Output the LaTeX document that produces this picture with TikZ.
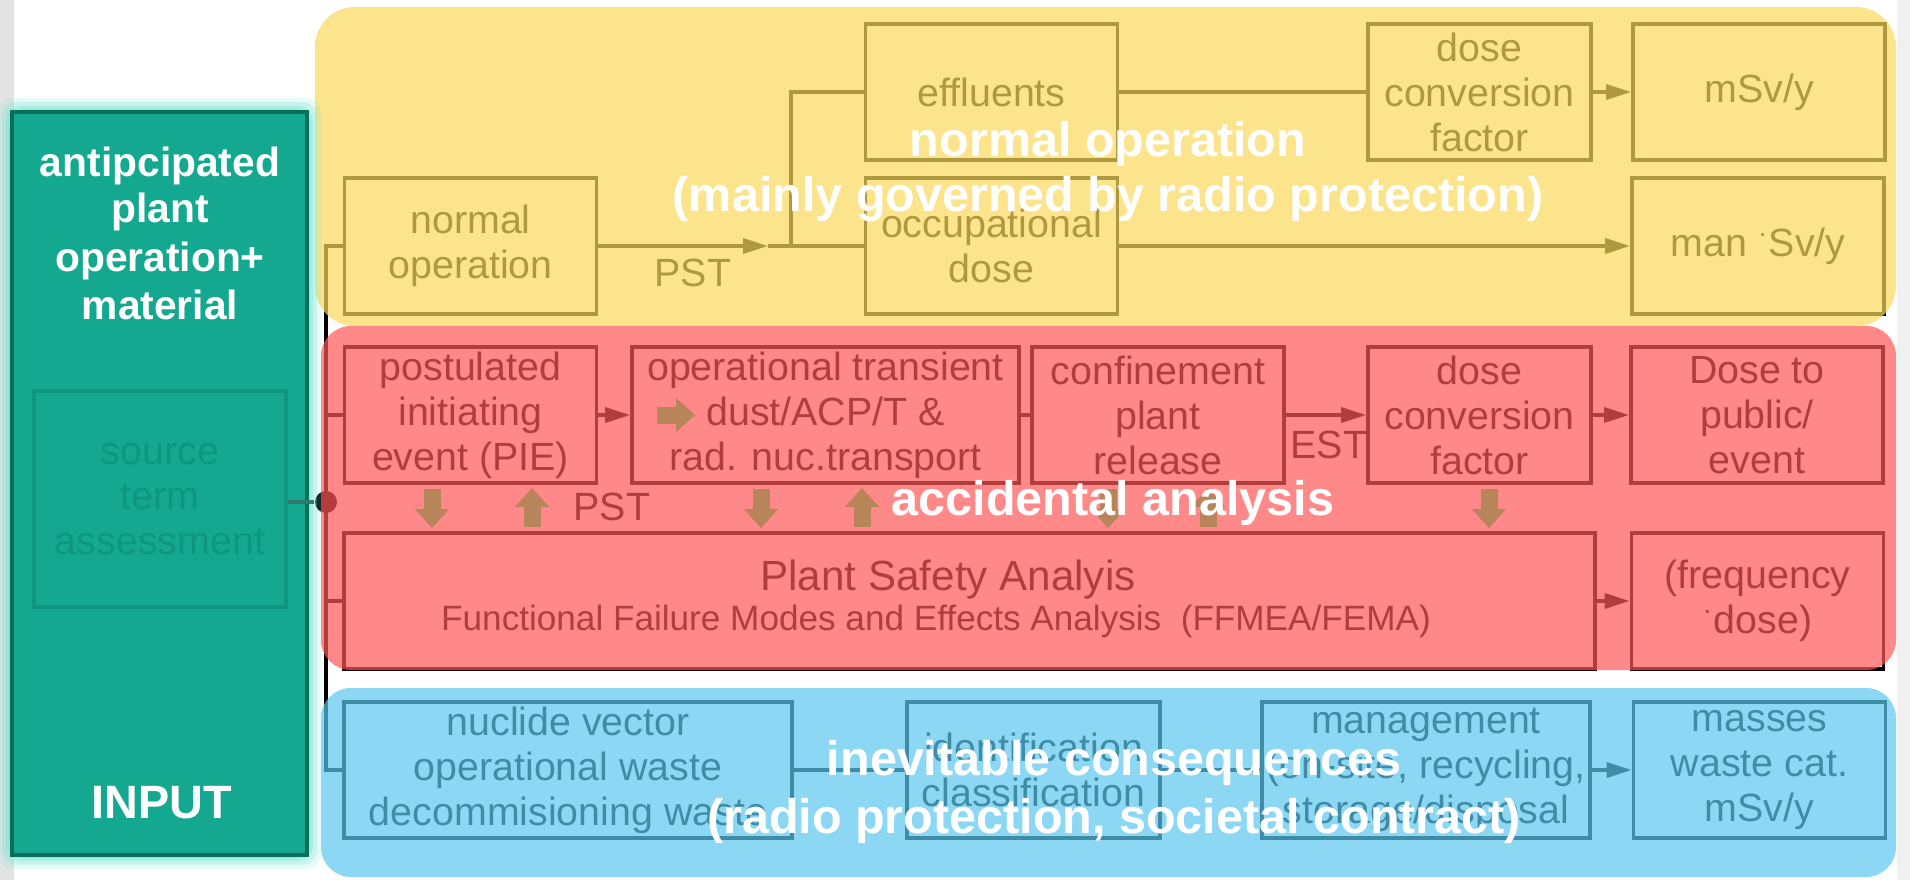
\documentclass[tikz,border=0pt]{standalone}
\usepackage{fontspec}
\setmainfont{Liberation Sans}
\usetikzlibrary{positioning, calc, arrows.meta}

\definecolor{yelC}{RGB}{251,217,91}
\definecolor{redC}{RGB}{255,86,86}
\definecolor{bluC}{RGB}{91,200,239}
\colorlet{yelT}{yelC!45!white}
\colorlet{redT}{redC!55!white}
\colorlet{bluT}{bluC!40!white}
\definecolor{tealC}{RGB}{20,168,144}
\definecolor{tealD}{RGB}{10,110,92}
\definecolor{tealF}{RGB}{14,150,127}
\definecolor{tealG}{RGB}{120,228,210}
\definecolor{tealL}{RGB}{50,120,110}
\definecolor{arrBrown}{RGB}{184,132,90}

\pgfdeclareverticalshading{yelShade}{100bp}{color(0bp)=(yelC); color(86bp)=(yelC); color(100bp)=(yelT)}
\pgfdeclareverticalshading{redShade}{100bp}{color(0bp)=(redC); color(92bp)=(redC); color(100bp)=(redT)}
\pgfdeclareverticalshading{bluShade}{100bp}{color(0bp)=(bluC); color(80bp)=(bluC); color(100bp)=(bluT)}

\begin{document}
\begin{tikzpicture}[x=0.1mm, y=-0.1mm,
    box/.style={draw, line width=1.1pt, align=center, inner sep=1pt,
      minimum width=25.2mm, minimum height=13.6mm,
      font=\fontsize{11.2}{12.8}\selectfont},
    txt/.style={inner sep=0pt, anchor=base west, font=\fontsize{11.2}{12.8}\selectfont},
    lnk/.style={line width=1pt},
    arr/.style={lnk, -{Triangle[length=2.5mm, width=1.5mm]}},
    blkarr/.style={draw=arrBrown, line width=1.7mm,
      -{Triangle[length=1.9mm, width=3.3mm]}, shorten <=0.4mm, shorten >=0.3mm},
    overlbl/.style={inner sep=0pt, anchor=base, text=white,
      font=\fontsize{13.8}{15.6}\selectfont\bfseries},
    inlbl/.style={inner sep=0pt, anchor=base, text=white,
      font=\fontsize{11.6}{13.6}\selectfont\bfseries}]

  \useasboundingbox (0,0) rectangle (1910,880);
  \fill[gray!22] (0,0) rectangle (14,880);
  \fill[gray!12] (1897,0) rectangle (1910,880);

  % normal operation
  \node[box] (normop) at (470.5,246) {normal\\operation};
  \node[box] (effl) at (991.5,92) {effluents};
  \node[box] (occu) at (991.5,246) {occupational\\dose};
  \node[box, minimum width=22.3mm] (dcfN) at (1479.5,92) {dose\\conversion\\factor};
  \node[box] (msv) at (1759,92) {mSv/y};
  \node[box] (mansv) at (1758,246) {man \textsuperscript{·}Sv/y};

  % accidents
  \node[box] (pie) at (470.5,415) {postulated\\initiating\\event (PIE)};
  \node[box, minimum width=38.7mm] (optr) at (825.5,415) {operational transient\\dust/ACP/T \&\\rad. nuc.transport};
  \node[box] (conf) at (1158,415) {confinement\\plant\\release};
  \node[box, minimum width=22.3mm] (dcfA) at (1479.5,415) {dose\\conversion\\factor};
  \node[box] (dpub) at (1757,415) {Dose to\\public/\\event};
  \node[box, minimum width=125.1mm, minimum height=13.6mm] (psa) at (969.5,601) {};
  \node[txt, anchor=base, font=\fontsize{12}{13.6}\selectfont] (psaT) at (948,590) {Plant Safety Analyis};
  \node[txt, anchor=base, font=\fontsize{10}{12}\selectfont] (psaS) at (936,630) {Functional Failure Modes and Effects Analysis~~(FFMEA/FEMA)};
  \node[box, minimum height=13.6mm] (freq) at (1757.5,601) {(frequency\\\textsuperscript{·}dose)};

  % consequences
  \node[box, minimum width=44.8mm] (nucl) at (568,770) {nuclide vector\\operational waste\\decommisioning waste};
  \node[box, minimum width=25.3mm] (ident) at (1033.5,770) {identification\\classification};
  \node[box, minimum width=32.8mm] (mgmt) at (1426,770) {management\\(on-site, recycling,\\storage/disposal};
  \node[box] (mass) at (1759.5,770) {masses\\waste cat.\\mSv/y};

  % links normal operation
  \coordinate (pstTip) at (768,246);
  \coordinate (fork) at (791,246);
  \draw[arr] (normop.east) -- (pstTip);
  \draw[lnk] (pstTip) -- (occu.west);
  \draw[lnk] (fork) |- (effl.west);
  \node[txt] (pstY) at (654,287) {PST};
  \draw[lnk] (effl) -- (dcfN);
  \draw[arr] (dcfN) -- (msv);
  \draw[arr] (occu) -- (mansv);

  % links accidents
  \draw[arr] (pie) -- (optr);
  \draw[lnk] (optr) -- (conf);
  \draw[arr] (conf) -- (dcfA);
  \node[txt] (estA) at (1290,458) {EST};
  \draw[arr] (dcfA) -- (dpub);
  \draw[arr] (psa) -- (freq);
  \node[txt] (pstA) at (573,520) {PST};

  % links consequences
  \draw[lnk] (nucl) -- (ident);
  \draw[lnk] (ident) -- (mgmt);
  \draw[arr] (mgmt) -- (mass);

  % input bus
  \coordinate (bus) at (326,0);
  \draw[lnk] (normop.west) -- (normop.west -| bus) -- (nucl.west -| bus) -- (nucl.west);
  \draw[lnk] (pie.west -| bus) -- (pie.west);
  \draw[lnk] (psa.west -| bus) -- (psa.west);
  \node[circle, fill=black, inner sep=0pt, minimum size=2.2mm] (srcdot) at (326,502) {};

  % coloured areas
  \shade[shading=yelShade, opacity=0.7, rounded corners=4mm] (315,7) rectangle (1896,326);
  \shade[shading=redShade, opacity=0.7, rounded corners=3mm] (321,326) rectangle (1896,670);
  \shade[shading=bluShade, opacity=0.7, rounded corners=3mm] (321,688) rectangle (1896,877);

  % input block
  \foreach \g/\o in {14/0.18, 10/0.28, 6/0.4, 3/0.55}
    \fill[tealG, opacity=\o, rounded corners=1.5mm] (12-\g,112-\g) rectangle (307+\g,855+\g);
  \node[draw=tealD, line width=1.4pt, fill=tealC, minimum width=29.5mm,
    minimum height=74.3mm, inner sep=0pt] (input) at (159.5,483.5) {};
  \node[box, draw=tealF, text=tealF, minimum height=21.6mm] (src) at (160,499) {source\\term\\assessment};
  \draw[lnk, draw=tealL] (src.east |- srcdot) -- (srcdot);
  \foreach \t/\yy [count=\i] in {antipcipated/177, plant/223, operation+/272, material/320}
    \node[inlbl] (inl\i) at (160,\yy) {\t};
  \node[inlbl, font=\fontsize{13.3}{15}\selectfont\bfseries] (inputLbl) at (162,818) {INPUT};

  % safety analysis feedback
  \foreach \top/\xx in {pie/432, optr/761, conf/1108, dcfA/1489}
    \draw[blkarr] (\top.south -| \xx,0) -- (psa.north -| \xx,0);
  \foreach \top/\xx in {pie/532, optr/862, conf/1208}
    \draw[blkarr] (psa.north -| \xx,0) -- (\top.south -| \xx,0);
  \draw[blkarr] ([xshift=2.3mm]optr.west) -- ++(45,0);

  % area titles
  \node[overlbl] (nopLbl) at (1108,157) {normal operation};
  \node[overlbl] (nopSub) at (1108,212) {(mainly governed by radio protection)};
  \node[overlbl] (accLbl) at (1113,515) {accidental analysis};
  \node[overlbl] (incLbl) at (1114,775) {inevitable consequences};
  \node[overlbl] (incSub) at (1114,833) {(radio protection, societal contract)};
\end{tikzpicture}
\end{document}
